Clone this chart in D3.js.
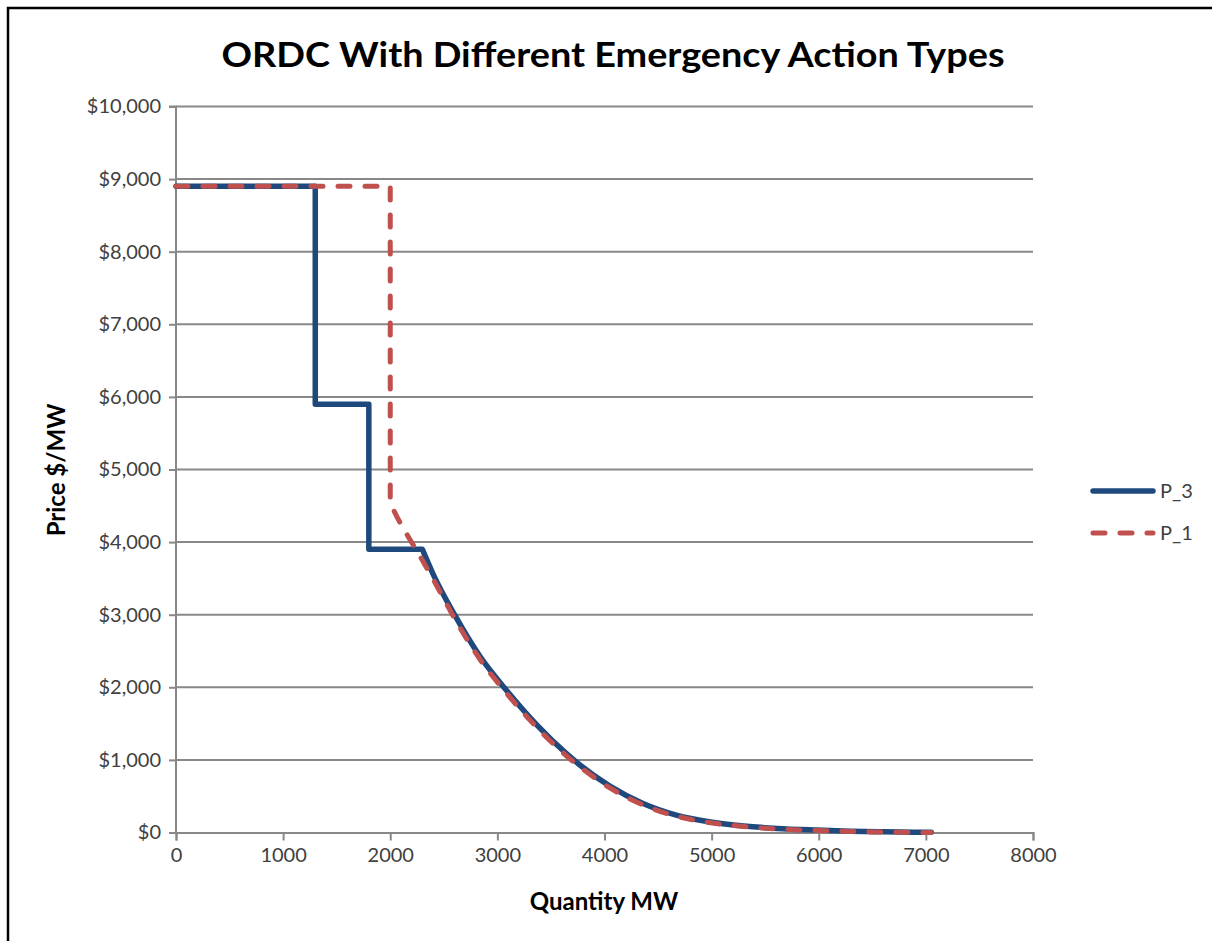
<!DOCTYPE html>
<html><head><meta charset="utf-8">
<script src="https://cdn.jsdelivr.net/npm/d3@7"></script>
<style>body{margin:0;background:#fff}svg{display:block}</style>
</head><body>
<svg id="c" width="1212" height="941"></svg>
<script>
const title = "ORDC With Different Emergency Action Types";
const xTicks = [0,1000,2000,3000,4000,5000,6000,7000,8000];
const yTicks = [0,1000,2000,3000,4000,5000,6000,7000,8000,9000,10000];
const seriesNames = ["P_3","P_1"];
const p3Qty   = [0,1300,1300,1800,1800,2300,2400,2600,2840,3090,3370,3650,3770,4050,4360,4670,4990,5300,5610,5980,6300,6600,7050];
const p3Price = [8900,8900,5900,5900,3900,3900,3560,3000,2420,1950,1480,1080,930,640,400,240,145,90,56,33,18,9,3];
const p1Qty   = [0,2000,2000,2045,2150,2280,2400,2600,2840,3090,3370,3650,3770,4050,4360,4670,4990,5300,5610,5980,6300,6600,7050];
const p1Price = [8900,8900,4550,4400,4120,3800,3490,2950,2380,1910,1445,1050,905,615,380,225,135,82,50,28,14,6,0];

const svg = d3.select("#c");
const font = "Lato, 'Open Sans', sans-serif";
svg.append("rect").attr("x",8).attr("y",8).attr("width",1300).attr("height",1000)
  .attr("fill","none").attr("stroke","#000").attr("stroke-width",2.5);

const x = d3.scaleLinear().domain([0,8000]).range([176,1033]);
const y = d3.scaleLinear().domain([0,10000]).range([832.5,106.5]);

svg.append("g").selectAll("line").data(yTicks.filter(d=>d>0)).join("line")
  .attr("x1",176).attr("x2",1033).attr("y1",d=>y(d)).attr("y2",d=>y(d))
  .attr("stroke","#888").attr("stroke-width",2);

const gx = svg.append("g").attr("transform",`translate(0,${y(0)})`)
  .call(d3.axisBottom(x).tickValues(xTicks).tickSize(8).tickPadding(7).tickFormat(d3.format("d")));
const gy = svg.append("g").attr("transform",`translate(${x(0)},0)`)
  .call(d3.axisLeft(y).tickValues(yTicks).tickSize(7).tickPadding(8).tickFormat(d=>"$"+d3.format(",")(d)));
[gx,gy].forEach(g=>{
  g.select(".domain").attr("stroke","#888").attr("stroke-width",2);
  g.selectAll(".tick line").attr("stroke","#888").attr("stroke-width",2);
  g.selectAll("text").attr("font-family",font).attr("font-size",20).attr("fill","#404040");
});
gy.select(".domain").attr("d",`M-7,${y(10000)}H0V${y(0)}`);

const lin = d3.line().x(d=>x(d[0])).y(d=>y(d[1]));
const smooth = d3.line().x(d=>x(d[0])).y(d=>y(d[1])).curve(d3.curveMonotoneX);
function pathFor(qs, ps, splitAt){
  const pts = qs.map((q,i)=>[q,ps[i]]);
  const a = pts.slice(0, splitAt+1), b = pts.slice(splitAt);
  return lin(a) + smooth(b).replace(/^M[^CLZ]*/, "");
}
svg.append("path").attr("d",pathFor(p3Qty,p3Price,5)).attr("fill","none").attr("stroke","#1f497d")
  .attr("stroke-width",5.5).attr("stroke-linejoin","round").attr("stroke-linecap","round");
svg.append("path").attr("d",pathFor(p1Qty,p1Price,2)).attr("fill","none").attr("stroke","#c0504d")
  .attr("stroke-width",5).attr("stroke-linejoin","round").attr("stroke-linecap","round")
  .attr("stroke-dasharray","12 15");

svg.append("text").attr("x",613).attr("y",67).attr("text-anchor","middle")
  .attr("font-family",font).attr("font-weight","bold").attr("font-size",34).attr("fill","#000")
  .attr("textLength",783).attr("lengthAdjust","spacingAndGlyphs").text(title);
svg.append("text").attr("x",604).attr("y",910).attr("text-anchor","middle")
  .attr("font-family",font).attr("font-weight","bold").attr("font-size",24).text("Quantity MW");
svg.append("text").attr("transform","translate(65,470) rotate(-90)").attr("text-anchor","middle")
  .attr("font-family",font).attr("font-weight","bold").attr("font-size",24).text("Price $/MW");

const leg = svg.append("g");
const legY = [491,533];
leg.append("line").attr("x1",1093).attr("x2",1153).attr("y1",legY[0]).attr("y2",legY[0])
  .attr("stroke","#1f497d").attr("stroke-width",5.5).attr("stroke-linecap","round");
leg.append("line").attr("x1",1093).attr("x2",1153).attr("y1",legY[1]).attr("y2",legY[1])
  .attr("stroke","#c0504d").attr("stroke-width",5).attr("stroke-linecap","round").attr("stroke-dasharray","12 15");
leg.selectAll("text").data(seriesNames).join("text")
  .attr("x",1160).attr("y",(d,i)=>legY[i]+7).attr("font-family",font).attr("font-size",20)
  .attr("fill","#404040").text(d=>d);
</script>
</body></html>
